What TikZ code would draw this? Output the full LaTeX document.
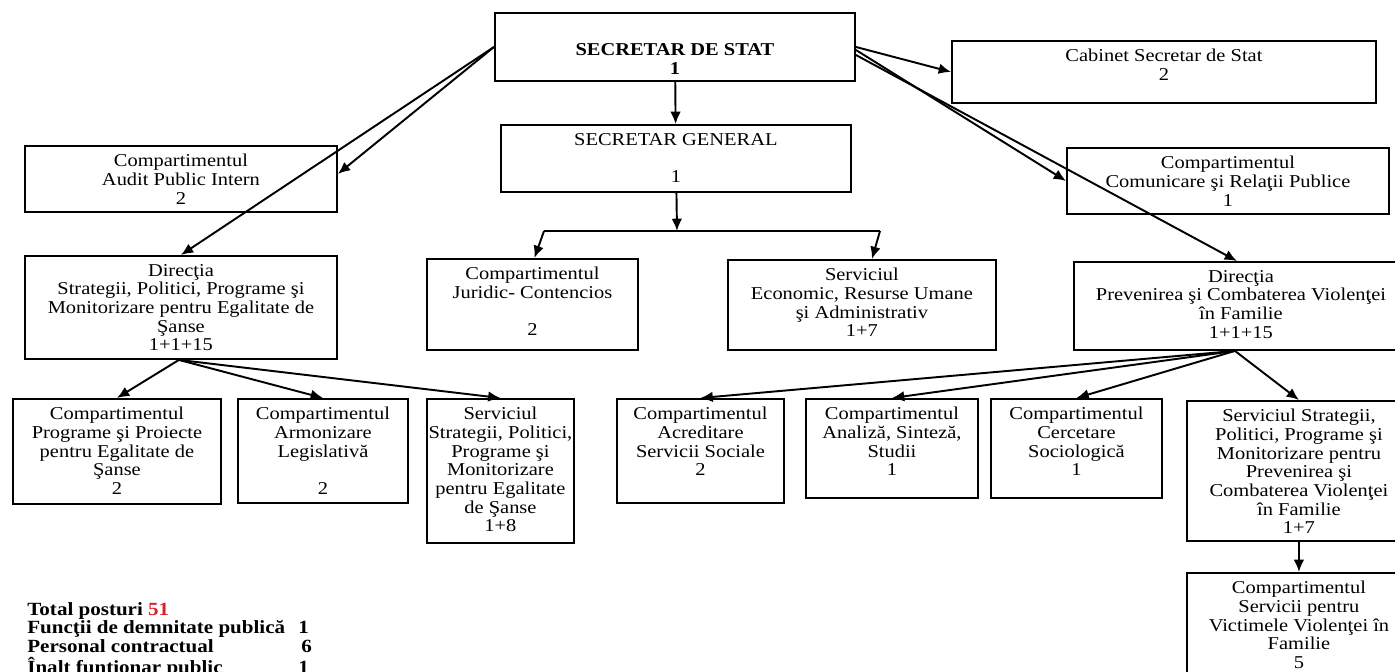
\documentclass[tikz,border=0pt]{standalone}
\usepackage{fontspec}
\setmainfont{Liberation Serif}[FakeStretch=1.13]
\usetikzlibrary{arrows.meta,calc}

\definecolor{postred}{RGB}{218,32,38}

\begin{document}
\begin{tikzpicture}[x=0.02cm, y=-0.02cm,
  unit/.style={draw, line width=1.1pt, inner sep=0pt, anchor=north west},
  lbl/.style={inner sep=0pt, align=center, anchor=north, yshift=-0.18cm,
    font=\fontsize{10.3}{10.6}\selectfont},
  txt/.style={label={[lbl]north:{#1}}},
  link/.style={line width=1.1pt, -{Latex[length=7pt,width=6pt]}},
  tally/.style={inner sep=0pt, anchor=north west,
    font=\bfseries\fontsize{10.6}{10.3}\selectfont}]

        \useasboundingbox (0,0) rectangle (1395,672);

        %% top level
        \node[unit, minimum width=7.2cm, minimum height=1.36cm,
          label={[lbl, yshift=-0.45cm]north:{\textbf{SECRETAR DE STAT}\\\textbf{1}}}] (sds) at (494,12) {};
        \node[unit, minimum width=8.48cm, minimum height=1.24cm,
          txt={Cabinet Secretar de Stat\\2}] (cab) at (951,40) {};
        \node[unit, minimum width=6.24cm, minimum height=1.32cm,
          txt={Compartimentul\\Audit Public Intern\\2}] (audit) at (24,145) {};
        \node[unit, minimum width=7cm, minimum height=1.34cm,
          txt={SECRETAR GENERAL\\[10.6pt]1}] (sg) at (500,124) {};
        \node[unit, minimum width=6.44cm, minimum height=1.32cm,
          txt={Compartimentul\\Comunicare şi Relaţii Publice\\1}] (com) at (1066,147) {};

        %% second level
        \node[unit, minimum width=6.24cm, minimum height=2.06cm,
          txt={Direcţia\\Strategii, Politici, Programe şi\\Monitorizare pentru Egalitate de\\Şanse\\1+1+15}] (dirl) at (24,255) {};
        \node[unit, minimum width=4.22cm, minimum height=1.82cm,
          txt={Compartimentul\\Juridic- Contencios\\[10.6pt]2}] (jur) at (426,258) {};
        \node[unit, minimum width=5.36cm, minimum height=1.8cm,
          txt={Serviciul\\Economic, Resurse Umane\\şi Administrativ\\1+7}] (eco) at (727,259) {};
        \node[unit, minimum width=6.68cm, minimum height=1.76cm,
          txt={Direcţia\\Prevenirea şi Combaterea Violenţei\\în Familie\\1+1+15}] (dirr) at (1073,261) {};

        %% third level
        \node[unit, minimum width=4.16cm, minimum height=2.1cm,
          txt={Compartimentul\\Programe şi Proiecte\\pentru Egalitate de\\Şanse\\2}] (prog) at (12,398) {};
        \node[unit, minimum width=3.4cm, minimum height=2.08cm,
          txt={Compartimentul\\Armonizare\\Legislativă\\[10.6pt]2}] (arm) at (237,398) {};
        \node[unit, minimum width=2.94cm, minimum height=2.88cm,
          txt={Serviciul\\Strategii, Politici,\\Programe şi\\Monitorizare\\pentru Egalitate\\de Şanse\\1+8}] (servl) at (426,398) {};
        \node[unit, minimum width=3.34cm, minimum height=2.08cm,
          txt={Compartimentul\\Acreditare\\Servicii Sociale\\2}] (acr) at (616,398) {};
        \node[unit, minimum width=3.44cm, minimum height=1.98cm,
          txt={Compartimentul\\Analiză, Sinteză,\\Studii\\1}] (ana) at (805,398) {};
        \node[unit, minimum width=3.42cm, minimum height=1.98cm,
          txt={Compartimentul\\Cercetare\\Sociologică\\1}] (cer) at (990,398) {};
        \node[unit, minimum width=4.48cm, minimum height=2.8cm,
          txt={Serviciul Strategii,\\Politici, Programe şi\\Monitorizare pentru\\Prevenirea şi\\Combaterea Violenţei\\în Familie\\1+7}] (servr) at (1186,400) {};
        \node[unit, minimum width=4.48cm, minimum height=2.3cm,
          txt={Compartimentul\\Servicii pentru\\Victimele Violenţei în\\Familie\\5}] (csv) at (1186,572) {};

        %% totals
        \node[tally] (tot) at (27,602) {%
          \begin{tabular}{@{}p{5.42cm}@{}l@{}}
            Total posturi \textcolor{postred}{51} & \\
            Funcţii de demnitate publică & 1\\
            Personal contractual & \,6\\
            Înalt funtionar public & 1
          \end{tabular}};

        %% connectors
        \coordinate (sgbus) at (677,231);
        \coordinate (busl) at (544,231);
        \coordinate (busr) at (880,231);

        \draw[link] (sds) -- (sg);
        \draw[link] (sds.west) -- ($(audit.east)+(0,-5)$);
        \draw[link] (sds.west) -- (dirl.north);
        \draw[link] (sds.east) -- (cab.west);
        \draw[link] ($(sds.east)+(0,3)$) -- (com.west);
        \draw[link] ($(sds.east)+(0,8)$) -- ($(dirr.north)+(-4,0)$);

        \draw[link] (sg) -- (sgbus);
        \draw[line width=1.1pt] (busl) -- (busr);
        \draw[link] (busl) -- ($(jur.north)+(2,0)$);
        \draw[link] (busr) -- ($(eco.north)+(10,0)$);

        \foreach \x in {prog,arm,servl}
                \draw[link] ($(dirl.south)+(-2,0)$) -- (\x.north);
        \foreach \x in {acr,ana,cer,servr}
                \draw[link] ($(dirr.south)+(-6,0)$) -- (\x.north);

        \draw[link] (servr) -- (csv);

\end{tikzpicture}
\end{document}
